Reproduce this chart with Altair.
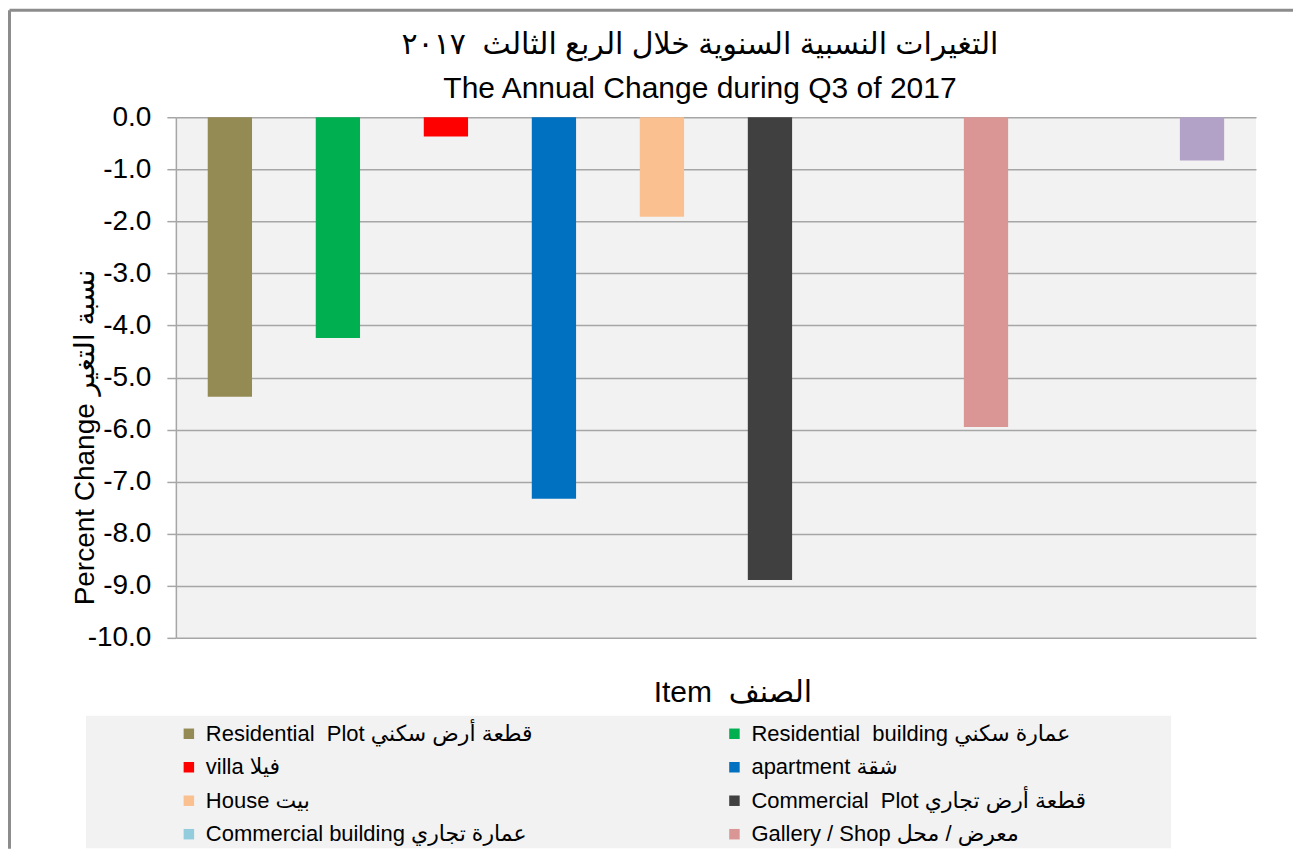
import altair as alt
import pandas as pd

# ---- data ----
categories = [
    "Residential Plot", "Residential building", "villa", "apartment", "House",
    "Commercial Plot", "Commercial building", "Gallery / Shop", "Category 9", "Category 10",
]
values = [-5.37, -4.24, -0.37, -7.33, -1.91, -8.89, 0.0, -5.95, 0.0, -0.83]
colors = [
    "#948A54", "#00B050", "#FF0000", "#0070C0", "#FAC090",
    "#404040", "#93CDDD", "#D99694", "#F79646", "#B3A2C7",
]
legend_labels = [
    "Residential\u00a0\u00a0Plot قطعة أرض سكني",
    "Residential\u00a0\u00a0building عمارة سكني",
    "villa فيلا",
    "apartment شقة",
    "House بيت",
    "Commercial\u00a0\u00a0Plot قطعة أرض تجاري",
    "Commercial building عمارة تجاري",
    "Gallery / Shop معرض / محل",
]
title_lines = [
    "التغيرات النسبية السنوية خلال الربع الثالث\u00a0\u00a0٢٠١٧",
    "The Annual Change during Q3 of 2017",
]
y_ticks = [-10, -9, -8, -7, -6, -5, -4, -3, -2, -1, 0]

df = pd.DataFrame({"category": categories, "value": values})
n_leg = len(legend_labels)
leg_df = pd.DataFrame({
    "label": legend_labels,
    "category": categories[:n_leg],
    "col": [i % 2 for i in range(n_leg)],
    "row": [i // 2 for i in range(n_leg)],
})

FONT = "Liberation Sans, Arial, DejaVu Sans"
NARROW = "Liberation Sans Narrow, Arial Narrow, Liberation Sans, DejaVu Sans"
GRID = "#A6A6A6"
FRAME = "#8C8C8C"

color_scale = alt.Scale(domain=categories, range=colors)

bars = alt.Chart(df).mark_bar().encode(
    x=alt.X(
        "category:N", sort=categories,
        scale=alt.Scale(paddingInner=0.59, paddingOuter=0.295),
        axis=alt.Axis(
            labels=False, ticks=False, domain=False, grid=False,
            title="Item\u00a0\u00a0الصنف", titleFontSize=30, titleFontWeight="normal",
            titleFont=FONT, titleColor="black", titlePadding=40,
            titleX=557, titleAlign="center",
        ),
    ),
    y=alt.Y(
        "value:Q",
        scale=alt.Scale(domain=[-10, 0], nice=False, zero=False),
        axis=alt.Axis(
            values=y_ticks,
            labelExpr="replace(format(datum.value, '.1f'), '\u2212', '-')",
            labelFontSize=28, labelFont=FONT, labelColor="black", labelPadding=16,
            labelOverlap=False,
            grid=True, gridColor=GRID, gridWidth=1.5,
            domainColor=GRID, domainWidth=1.5,
            tickColor=GRID, tickWidth=1.5, tickSize=9,
            title="Percent Change نسبة التغير", titleFontSize=28, titleFontWeight="normal",
            titleFont=FONT, titleColor="black",
            titleAngle=-90, titleAlign="left", titleBaseline="middle",
            titleX=-90, titleY=488,
        ),
    ),
    color=alt.Color("category:N", scale=color_scale, legend=None),
)

# legend drawn below the plot with its own (independent) scales
leg_x = alt.Scale(domain=[-0.02381, 1.95604], nice=False, zero=False)
leg_y = alt.Scale(domain=[-18.418, -2.866], nice=False, zero=False, reverse=True)

leg_box = alt.Chart(leg_df).mark_rect(
    color="#F2F2F2", clip=False,
    xOffset=-103, x2Offset=437, yOffset=-18, y2Offset=14,
).encode(
    x=alt.X("min(col):Q", scale=leg_x, axis=None),
    x2="max(col):Q",
    y=alt.Y("min(row):Q", scale=leg_y, axis=None),
    y2="max(row):Q",
)
leg_base = alt.Chart(leg_df).encode(
    x=alt.X("col:Q", scale=leg_x, axis=None),
    y=alt.Y("row:Q", scale=leg_y, axis=None),
)
leg_sym = leg_base.mark_point(shape="square", filled=True, size=110, opacity=1, clip=False).encode(
    color=alt.Color("category:N", scale=color_scale, legend=None)
)
leg_txt = leg_base.mark_text(
    align="left", baseline="middle", dx=17, fontSize=22, font=FONT, color="black", clip=False
).encode(text="label:N")

legend_layer = alt.layer(leg_box, leg_sym, leg_txt)

# chart-area frame (grey border on the left and top, as in the reference)
frame_src = alt.Chart(leg_df).transform_aggregate(n="count()")
frame_top = frame_src.mark_rule(color=FRAME, strokeWidth=3, clip=False).encode(
    x=alt.value(-166.5), x2=alt.value(1118), y=alt.value(-107)
)
frame_left = frame_src.mark_rule(color=FRAME, strokeWidth=3, clip=False).encode(
    x=alt.value(-166.5), y=alt.value(-107), y2=alt.value(732)
)

chart = alt.layer(bars, legend_layer, frame_top, frame_left).resolve_scale(
    x="independent", y="independent"
).properties(
    width=1081, height=521,
    title=alt.TitleParams(
        text=title_lines, fontSize=30, font=NARROW, fontWeight="normal",
        color="black", lineHeight=44, anchor="middle", dx=-16, offset=-95.5,
    ),
    padding={"left": 0, "top": 0, "right": 0, "bottom": 0},
    background="white",
).configure_view(fill="#F2F2F2", stroke=None)

chart.save("out.html", embed_options={"renderer": "svg", "actions": False})
